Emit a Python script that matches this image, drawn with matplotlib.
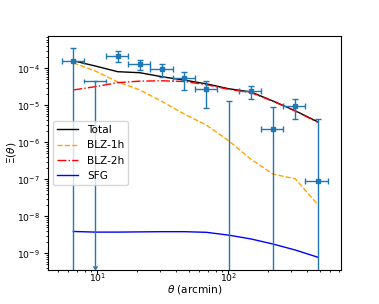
import numpy as np
import matplotlib
matplotlib.use("Agg")
import matplotlib.pyplot as plt

# angular bins (arcmin)
theta = [6.56, 9.68, 14.3, 21.1, 31.3, 46.1, 68.1, 100.7, 148.6, 219.8, 324.3, 479.8]
edges = [5.4, 7.9, 11.7, 17.2, 25.4, 37.5, 55.4, 81.7, 120.6, 178.0, 262.7, 387.8, 572.4]

# model curves
total = [1.6e-4, 1.15e-4, 8.1e-5, 7.6e-5, 5.9e-5, 4.8e-5, 3.8e-5, 2.8e-5, 2.3e-5, 1.3e-5, 7.1e-6, 3.6e-6]
blz1h = [1.4e-4, 8.4e-5, 4.3e-5, 2.6e-5, 1.26e-5, 5.8e-6, 2.9e-6, 1.1e-6, 3.5e-7, 1.38e-7, 1.03e-7, 2.1e-8]
blz2h = [2.6e-5, 3.2e-5, 4.1e-5, 4.5e-5, 4.6e-5, 4.4e-5, 3.6e-5, 2.7e-5, 2.2e-5, 1.28e-5, 7.0e-6, 3.5e-6]
sfg = [3.9e-9, 3.75e-9, 3.75e-9, 3.8e-9, 3.85e-9, 3.85e-9, 3.7e-9, 3.1e-9, 2.45e-9, 1.78e-9, 1.23e-9, 7.9e-10]

# measurements (index 1 is an upper limit)
xi = [1.58e-4, np.nan, 2.19e-4, 1.31e-4, 9.4e-5, 5.4e-5, 2.75e-5, -5e-6, 2.4e-5, 2.3e-6, 9.5e-6, 8.9e-8]
xi_err = [2.0e-4, np.nan, 7.0e-5, 4.0e-5, 3.7e-5, 2.75e-5, 1.9e-5, 1.8e-5, 9.5e-6, 6.8e-6, 5.25e-6, 4.2e-6]
ul_idx = 1
ul_value = 4.6e-5
ul_low = 4.5e-10

xticks = [10, 100]
yticks = [1e-9, 1e-8, 1e-7, 1e-6, 1e-5, 1e-4]

plt.rcParams['font.size'] = 7.6
plt.rcParams['xtick.labelsize'] = 6.7
plt.rcParams['ytick.labelsize'] = 6.7
plt.rcParams['xtick.major.size'] = 2.6
plt.rcParams['ytick.major.size'] = 2.6
plt.rcParams['xtick.minor.size'] = 1.5
plt.rcParams['ytick.minor.size'] = 1.5
fig = plt.figure(figsize=(3.79, 3.04), dpi=100)
ax = fig.add_axes([47.7/379, 1 - 270/304, 293.3/379, 234/304])

ax.plot(theta, total, color="k", lw=1.0, label="Total")
ax.plot(theta, blz1h, color="orange", ls="--", lw=1.0, label="BLZ-1h")
ax.plot(theta, blz2h, color="r", ls="-.", lw=1.0, label="BLZ-2h")
ax.plot(theta, sfg, color="b", lw=1.0, label="SFG")

theta = np.array(theta)
edges = np.array(edges)
xerr = np.vstack([theta - edges[:-1], edges[1:] - theta])
m = np.arange(len(theta)) != ul_idx
ax.errorbar(theta[m], np.array(xi)[m], xerr=xerr[:, m], yerr=np.array(xi_err)[m],
            fmt="s", ms=3, color="C0", elinewidth=1.0, capsize=2.2, capthick=1.0)
ax.errorbar(theta[ul_idx], ul_value, xerr=xerr[:, [ul_idx]], yerr=ul_value - ul_low,
            uplims=True, fmt="none", ecolor="C0", elinewidth=1.0, capsize=1.3, capthick=1.0)

ax.set_xscale("log")
ax.set_yscale("log")
ax.set_xticks(xticks)
ax.set_yticks(yticks)
ax.set_xlim(4.18, 724)
ax.set_ylim(10**-9.45, 10**-3.127)
ax.tick_params(axis="x", which="both", pad=-1.5)
ax.tick_params(axis="y", which="both", pad=3.0)
ax.set_xlabel(r"$\theta$ (arcmin)", labelpad=-0.5)
ax.set_ylabel(r"$\Xi(\theta)$", labelpad=-1.0)
ax.legend(loc="center left")

fig.savefig("out.png", dpi=100)
